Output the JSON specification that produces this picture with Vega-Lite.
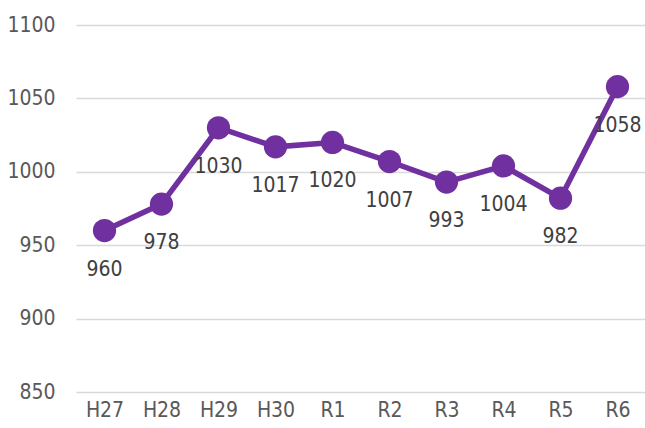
{
  "$schema": "https://vega.github.io/schema/vega-lite/v6.json",
  "width": 570,
  "height": 367,
  "autosize": {"type": "none"},
  "padding": {"left": 76, "top": 25, "right": 0, "bottom": 36},
  "background": "white",
  "config": {
    "view": {"stroke": null},
    "font": "DejaVu Sans Condensed, Liberation Sans, sans-serif"
  },
  "data": {
    "values": [
      {"year": "H27", "value": 960},
      {"year": "H28", "value": 978},
      {"year": "H29", "value": 1030},
      {"year": "H30", "value": 1017},
      {"year": "R1", "value": 1020},
      {"year": "R2", "value": 1007},
      {"year": "R3", "value": 993},
      {"year": "R4", "value": 1004},
      {"year": "R5", "value": 982},
      {"year": "R6", "value": 1058}
    ]
  },
  "encoding": {
    "x": {
      "field": "year",
      "type": "nominal",
      "sort": null,
      "scale": {"type": "point", "padding": 0.5},
      "axis": {
        "title": null,
        "domain": false,
        "ticks": false,
        "labelAngle": 0,
        "labelFont": "DejaVu Sans Condensed, Liberation Sans, sans-serif",
        "labelFontSize": 21,
        "labelColor": "#595959",
        "labelPadding": 7
      }
    },
    "y": {
      "field": "value",
      "type": "quantitative",
      "scale": {"domain": [850, 1100], "nice": false, "zero": false},
      "axis": {
        "title": null,
        "domain": false,
        "ticks": false,
        "format": "d",
        "values": [850, 900, 950, 1000, 1050, 1100],
        "labelFont": "DejaVu Sans Condensed, Liberation Sans, sans-serif",
        "labelFontSize": 21,
        "labelColor": "#595959",
        "labelPadding": 21,
        "gridColor": "#d9d9d9",
        "gridWidth": 1.5
      }
    }
  },
  "layer": [
    {
      "mark": {"type": "line", "color": "#7030A0", "strokeWidth": 5.5}
    },
    {
      "mark": {"type": "circle", "color": "#7030A0", "size": 540, "opacity": 1}
    },
    {
      "mark": {
        "type": "text",
        "dy": 39,
        "baseline": "middle",
        "align": "center",
        "font": "DejaVu Sans Condensed, Liberation Sans, sans-serif",
        "fontSize": 21,
        "color": "#404040"
      },
      "encoding": {"text": {"field": "value", "type": "quantitative", "format": "d"}}
    }
  ]
}
